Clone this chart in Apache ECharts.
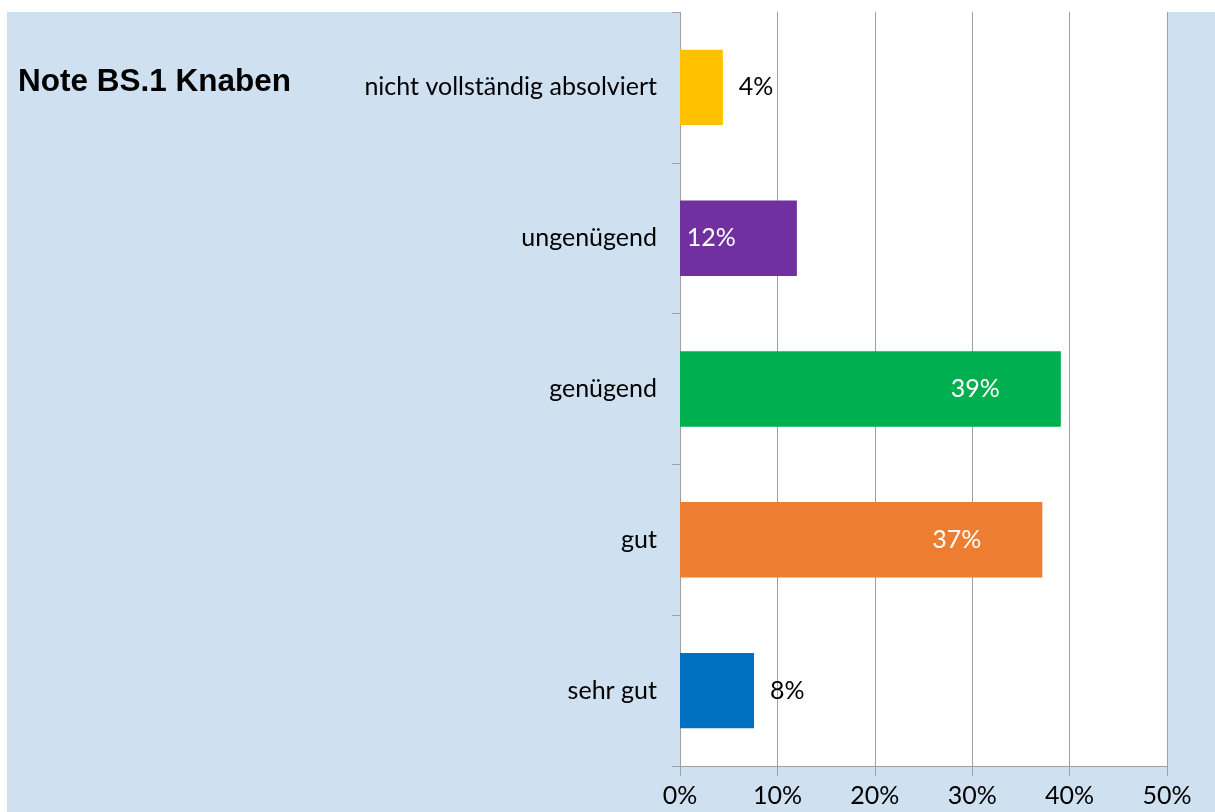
<!DOCTYPE html>
<html>
<head>
<meta charset="utf-8">
<script src="https://cdn.jsdelivr.net/npm/echarts@6/dist/echarts.min.js"></script>
<style>
  html, body { margin: 0; padding: 0; background: #fff; }
  #box { position: absolute; left: 7px; top: 12px; width: 1208px; height: 800px; background: #cfe0f1; }
</style>
</head>
<body>
<div id="box"></div>
<script>
// Daten (von unten nach oben, wie in Excel)
const categories = ['sehr gut', 'gut', 'genügend', 'ungenügend', 'nicht vollständig absolviert'];
const values = [7.6, 37.2, 39.1, 12.0, 4.4];
const barColors = ['#0070c0', '#ed7d31', '#00b050', '#7030a0', '#ffc000'];
const labelInside = [false, true, true, true, false];
const xTicks = [0, 10, 20, 30, 40, 50];

const font = 'Lato';
let myChart = echarts.init(document.getElementById('box'));

let options = {
    animation: false,
    title: {
        text: 'Note BS.1 Knaben',
        left: 6,
        top: 49,
        textStyle: { fontFamily: 'Liberation Sans', fontSize: 31.5, fontWeight: 'bold', color: '#000' }
    },
    grid: {
        left: 673, right: 48, top: 0, bottom: 46,
        show: true, backgroundColor: '#fff', borderWidth: 0
    },
    xAxis: {
        type: 'value',
        min: xTicks[0], max: xTicks[xTicks.length - 1], interval: 10,
        axisLine: { show: true, lineStyle: { color: '#a0a0a0' } },
        axisTick: { show: true, length: 10, lineStyle: { color: '#a0a0a0' } },
        splitLine: { show: true, lineStyle: { color: '#a0a0a0', width: 1 } },
        axisLabel: { formatter: '{value}%', color: '#000', fontFamily: font, fontSize: 25, margin: 17 }
    },
    yAxis: {
        type: 'category',
        data: categories,
        axisLine: { show: true, lineStyle: { color: '#a0a0a0' } },
        axisTick: { show: true, length: 8, lineStyle: { color: '#a0a0a0' } },
        axisLabel: { color: '#000', fontFamily: font, fontSize: 25, margin: 23 }
    },
    series: [{
        type: 'bar',
        barWidth: '50%',
        data: values.map((v, i) => ({
            value: v,
            itemStyle: { color: barColors[i] },
            label: labelInside[i]
                ? { position: 'insideRight', distance: 61, color: '#fff' }
                : { position: 'right', distance: 16, color: '#000' }
        })),
        label: {
            show: true,
            fontFamily: font,
            fontSize: 25,
            formatter: p => Math.round(p.value) + '%'
        }
    }]
};
myChart.setOption(options);
</script>
</body>
</html>
